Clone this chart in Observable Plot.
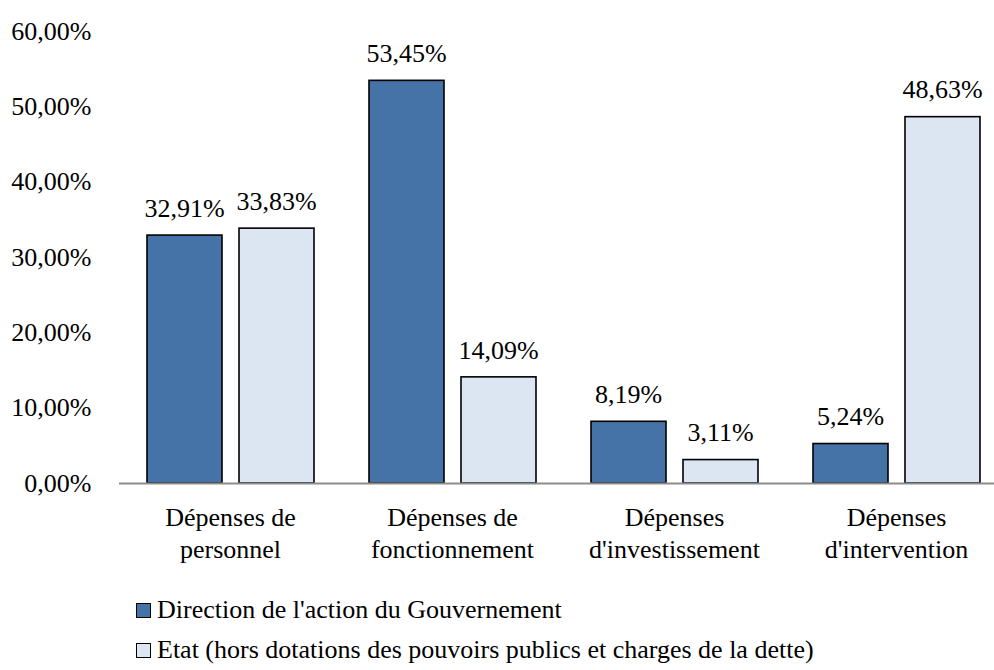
<!DOCTYPE html>
<html>
<head>
<meta charset="utf-8">
<script src="https://cdn.jsdelivr.net/npm/d3@7"></script>
<script src="https://cdn.jsdelivr.net/npm/@observablehq/plot@0.6"></script>
<style>
  html, body { margin: 0; padding: 0; background: #fff; }
  #wrap { position: relative; width: 994px; height: 670px; overflow: hidden; font-family: "Liberation Serif", serif; }
  #legend { position: absolute; left: 136px; top: 590px; font-size: 26px; color: #000; }
  .item { display: flex; align-items: center; height: 40px; white-space: nowrap; }
  .sw { width: 13px; height: 13px; border: 1.5px solid #000; margin-right: 6px; }
</style>
</head>
<body>
<div id="wrap">
  <div id="chart"></div>
  <div id="legend"></div>
</div>
<script>
const categories = ["Dépenses de personnel", "Dépenses de fonctionnement", "Dépenses d'investissement", "Dépenses d'intervention"];
const tickLabels = ["Dépenses de\npersonnel", "Dépenses de\nfonctionnement", "Dépenses\nd'investissement", "Dépenses\nd'intervention"];
const seriesNames = ["Direction de l'action du Gouvernement", "Etat (hors dotations des pouvoirs publics et charges de la dette)"];
const seriesColors = ["#4572a7", "#dce6f2"];
const directionValues = [32.91, 53.45, 8.19, 5.24];
const etatValues = [33.83, 14.09, 3.11, 48.63];
const yTicks = [0, 10, 20, 30, 40, 50, 60];

const fmt = v => v.toFixed(2).replace(".", ",") + "%";
const dirData = categories.map((c, i) => ({category: c, value: directionValues[i]}));
const etatData = categories.map((c, i) => ({category: c, value: etatValues[i]}));
const labelOf = new Map(categories.map((c, i) => [c, tickLabels[i]]));

const font = "Liberation Serif";
const chart = Plot.plot({
  width: 994,
  height: 580,
  marginTop: 31,
  marginBottom: 97,
  marginLeft: 119,
  marginRight: 0,
  style: {fontFamily: font, fontSize: "26px", color: "#000", background: "#fff"},
  x: {type: "band", domain: categories, range: [119, 1007], padding: 0, label: null},
  y: {domain: [0, 60], label: null},
  marks: [
    Plot.barY(dirData, {x: "category", y: "value", fill: seriesColors[0], stroke: "#000", strokeWidth: 1.6, insetLeft: 28, insetRight: 119}),
    Plot.barY(etatData, {x: "category", y: "value", fill: seriesColors[1], stroke: "#000", strokeWidth: 1.6, insetLeft: 120, insetRight: 27}),
    Plot.ruleY([0], {stroke: "#8c8c8c", strokeWidth: 2}),
    Plot.text(dirData, {x: "category", y: "value", text: d => fmt(d.value), dx: -46, dy: -27, lineAnchor: "middle", fontSize: 26}),
    Plot.text(etatData, {x: "category", y: "value", text: d => fmt(d.value), dx: 46, dy: -27, lineAnchor: "middle", fontSize: 26}),
    Plot.axisY({ticks: yTicks, tickSize: 0, tickPadding: 28, tickFormat: fmt, fontSize: 26, label: null}),
    Plot.axisX({tickSize: 0, tickPadding: 20, tickFormat: c => labelOf.get(c), lineHeight: 1.23, fontSize: 26, label: null})
  ]
});
document.getElementById("chart").appendChild(chart);

const legend = document.getElementById("legend");
seriesNames.forEach((name, i) => {
  const item = document.createElement("div");
  item.className = "item";
  const sw = document.createElement("span");
  sw.className = "sw";
  sw.style.background = seriesColors[i];
  const t = document.createElement("span");
  t.textContent = name;
  item.appendChild(sw);
  item.appendChild(t);
  legend.appendChild(item);
});
</script>
</body>
</html>
